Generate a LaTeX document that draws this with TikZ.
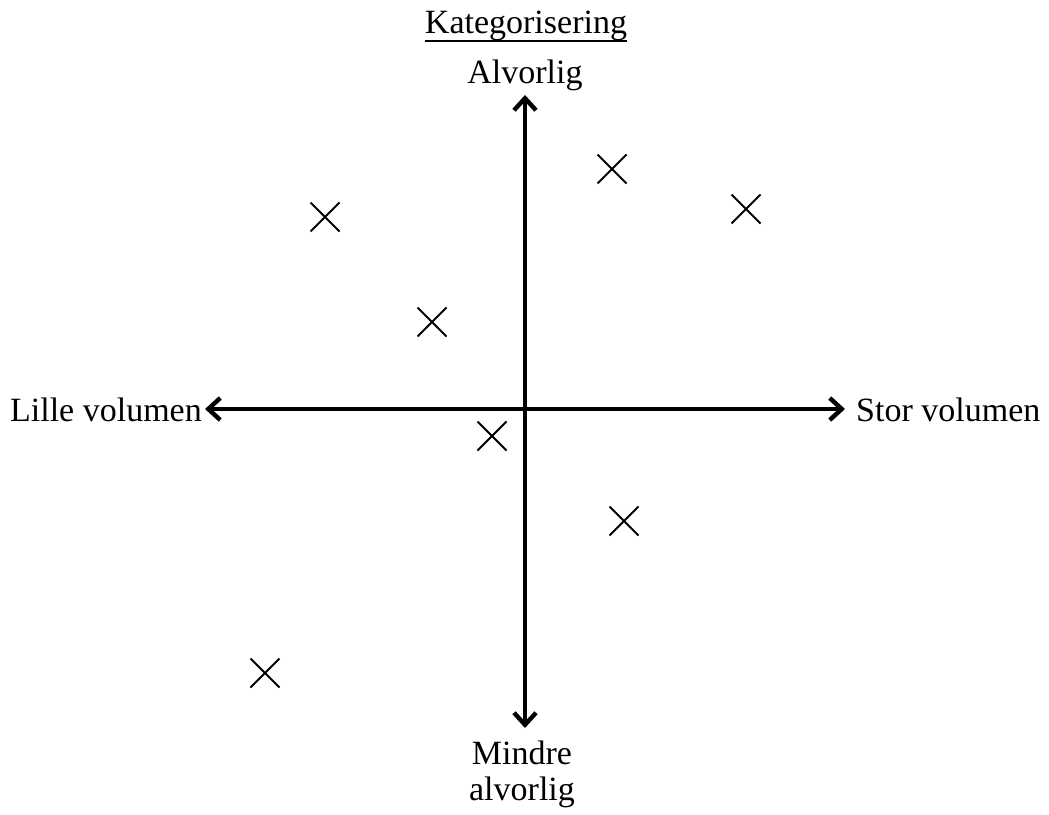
\documentclass[tikz,border=0pt]{standalone}
\usepackage{fontspec}
\setmainfont{Liberation Serif}
\usetikzlibrary{arrows.meta,shapes.misc}
\begin{document}
\begin{tikzpicture}[x=1pt,y=-1pt,
  tip/.style={Straight Barb[length=12pt,width=22pt,line width=4.4pt]},
  axis/.style={line width=3.8pt,{Straight Barb[length=12pt,width=22pt,line width=4.4pt]}-{Straight Barb[length=12pt,width=22pt,line width=4.4pt]}},
  lbl/.style={font=\fontsize{34}{38}\selectfont,inner sep=0pt},
  casemark/.style={cross out,draw,line width=2pt,minimum size=27pt,inner sep=0pt}]
\useasboundingbox (0,0) rectangle (1049,814);
% axis ends
\coordinate (top) at (525,95);
\coordinate (bottom) at (525,728);
\coordinate (left) at (205,409);
\coordinate (right) at (845,409);
\draw[axis] (bottom) -- (top);
\draw[axis] (left) -- (right);
% labels
\node[lbl,anchor=base] (title) at (526,33) {Kategorisering};
\draw[line width=1.6pt] ([yshift=-8pt]title.base west) -- ([yshift=-8pt]title.base east);
\node[lbl,anchor=base] (alv) at (525,83) {Alvorlig};
\node[lbl,anchor=base east] (lille) at (202,421) {Lille volumen};
\node[lbl,anchor=base west] (stor) at (856,421) {Stor volumen};
\node[lbl,anchor=base] (mindre) at (522,764) {Mindre};
\node[lbl,anchor=base] (mindre2) at (522,800) {alvorlig};
% cases
\node[casemark] (m1) at (325,217) {};
\node[casemark] (m2) at (612,169) {};
\node[casemark] (m3) at (746,209) {};
\node[casemark] (m4) at (432,322) {};
\node[casemark] (m5) at (492,436) {};
\node[casemark] (m6) at (624,521) {};
\node[casemark] (m7) at (265,673) {};
\end{tikzpicture}
\end{document}
